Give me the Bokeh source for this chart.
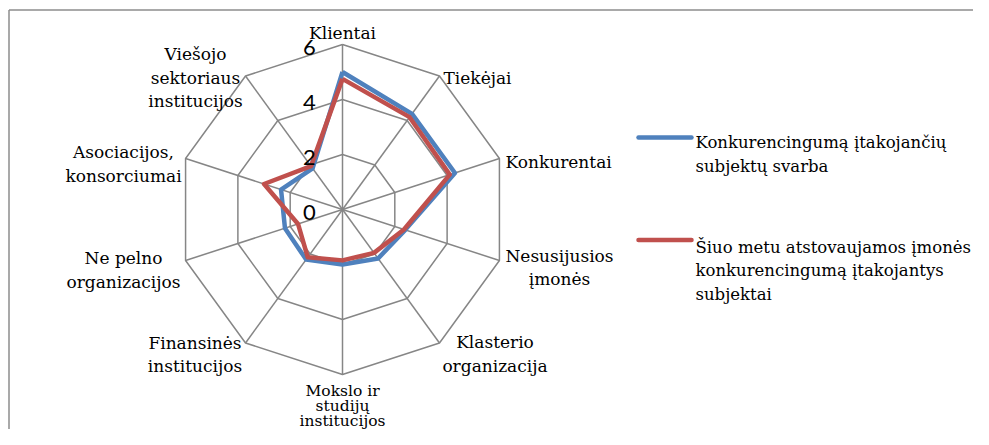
import math
from bokeh.plotting import figure
from bokeh.models import Range1d, Label
from bokeh.embed import file_html
from bokeh.resources import INLINE

categories = ["Klientai", "Tiekėjai", "Konkurentai", "Nesusijusios\nįmonės",
              "Klasterio\norganizacija", "Mokslo ir\nstudijų\ninstitucijos",
              "Finansinės\ninstitucijos", "Ne pelno\norganizacijos",
              "Asociacijos,\nkonsorciumai", "Viešojo\nsektoriaus\ninstitucijos"]
series1_name = "Konkurencingumą įtakojančių\nsubjektų svarba"
series1 = [5.0, 4.3, 4.3, 2.4, 2.2, 2.0, 2.25, 2.2, 2.35, 1.85]
series2_name = "Šiuo metu atstovaujamos įmonės\nkonkurencingumą įtakojantys\nsubjektai"
series2 = [4.75, 4.15, 4.1, 2.35, 1.95, 1.85, 2.15, 1.7, 3.0, 1.95]
ticks = [0, 2, 4, 6]

BLUE = "#4F81BD"
RED = "#C0504D"
GRID = "#868686"
SERIF = "DejaVu Serif"
SANS = "Lato"
FS = "17px"

W, H = 973, 429
p = figure(width=W, height=H, output_backend="svg", toolbar_location=None,
           x_range=Range1d(0, W), y_range=Range1d(H, 0),
           min_border=0, outline_line_color=None)
p.axis.visible = False
p.grid.visible = False
p.background_fill_color = "white"

cx, cy = 342, 209
vmax = 6
R = 165.0
n = len(categories)
angles = [math.pi / 2 - 2 * math.pi * i / n for i in range(n)]


def pt(v, a):
    r = v / vmax * R
    return cx + r * math.cos(a), cy - r * math.sin(a)


def add_text(x, y, txt, font, size, align="left", baseline="alphabetic"):
    p.add_layout(Label(x=x, y=y, text=txt, text_font=font, text_font_size=size,
                       text_align=align, text_baseline=baseline, text_color="black"))


# chart frame (cut off at right/bottom)
p.line([8.5, 8.5], [H, 9.5], line_color="#8c8c8c", line_width=1.5)
p.line([8.5, W], [9.5, 9.5], line_color="#8c8c8c", line_width=1.5)

# grid rings
for t in ticks[1:]:
    xs, ys = zip(*[pt(t, a) for a in angles + angles[:1]])
    p.line(list(xs), list(ys), line_color=GRID, line_width=1.5)
# spokes
for a in angles:
    x1, y1 = pt(vmax, a)
    p.line([cx, x1], [cy, y1], line_color=GRID, line_width=1.5)

# series
for vals, col in [(series1, BLUE), (series2, RED)]:
    xs, ys = zip(*[pt(v, a) for v, a in zip(vals + vals[:1], angles + angles[:1])])
    p.line(list(xs), list(ys), line_color=col, line_width=4.5, line_join="round")

# value tick labels
for t in ticks:
    x, y = pt(t, angles[0])
    add_text(x - 33, y + 3, str(t), SANS, "22px", "center", "middle")

# category labels: (x, first baseline, align, line height, font size)
label_pos = [(342, 32.5, "center", 23.8, FS), (443, 77, "left", 23.8, FS),
             (505, 161.7, "left", 23.8, FS), (559, 255, "center", 23.8, FS),
             (494.5, 341.7, "center", 23.8, FS), (342, 390, "center", 15, "15.5px"),
             (194.5, 342, "center", 23.8, FS), (123, 257.7, "center", 23.8, FS),
             (123, 151.7, "center", 23.8, FS), (195, 53.3, "center", 23.8, FS)]
LH = 23.8
for cat, (x, y0, al, lh, fs) in zip(categories, label_pos):
    for k, line in enumerate(cat.split("\n")):
        add_text(x, y0 + k * lh, line, SERIF, fs, al)

# legend
for name, col, ly, ty in [(series1_name, BLUE, 137, 142), (series2_name, RED, 239.5, 246.5)]:
    p.line([638, 691], [ly, ly], line_color=col, line_width=4.5, line_cap="round")
    for k, line in enumerate(name.split("\n")):
        add_text(695, ty + k * LH, line, SERIF, "16.5px")

open("out.html", "w").write(file_html(p, INLINE))
